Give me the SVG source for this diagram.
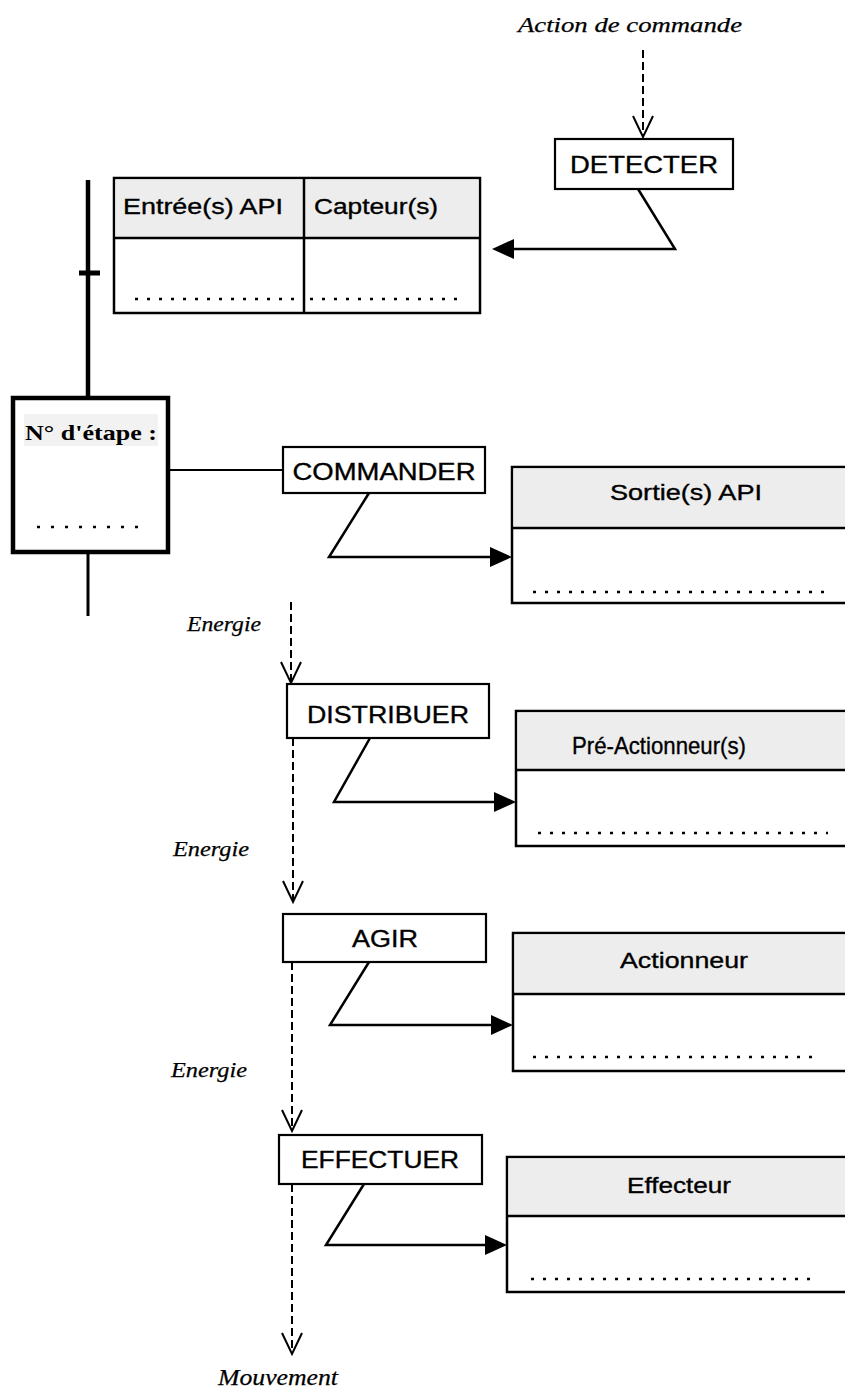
<svg xmlns="http://www.w3.org/2000/svg" width="845" height="1391" viewBox="0 0 845 1391">
<style>
.bg{fill:#ffffff}
.box{fill:#ffffff;stroke:#000;stroke-width:2.2}
.tbl{fill:#ffffff;stroke:#000;stroke-width:2.5}
.hdr{fill:#ededed;stroke:none}
.sep{stroke:#000;stroke-width:2.5;fill:none}
.lbl{font-family:"Liberation Sans",Arial,sans-serif;font-size:23px;fill:#000;stroke:#000;stroke-width:0.35}
.hl{font-family:"Liberation Sans",Arial,sans-serif;font-size:22px;fill:#000;stroke:#000;stroke-width:0.35}
.it{font-family:"Liberation Serif","Times New Roman",serif;font-style:italic;font-size:22px;fill:#000;stroke:#000;stroke-width:0.25}
.dots{stroke:#000;stroke-width:2.5;stroke-dasharray:3 9;fill:none}
.link{stroke:#000;stroke-width:2.5;fill:none;stroke-linejoin:miter}
.dash{stroke:#000;stroke-width:2;stroke-dasharray:8 4;fill:none}
.vhead{stroke:#000;stroke-width:2;fill:none}
.tip{fill:#000;stroke:none}
</style>
<rect class="bg" x="0" y="0" width="845" height="1391"/>

<g id="connectors">
  <line class="dash" x1="643" y1="50" x2="643" y2="136"/>
  <polyline class="vhead" points="633,116 643,137 653,116"/>
  <polyline class="link" points="638,189 675,249 512,249"/>
  <polygon class="tip" points="492,249 514,239 514,259"/>
  <line stroke="#000" stroke-width="2" x1="168" y1="470" x2="283" y2="470"/>
  <polyline class="link" points="369,493 329,557 492,557"/>
  <polygon class="tip" points="512,557 490,547 490,567"/>
  <line class="dash" x1="291" y1="602" x2="291" y2="681"/>
  <polyline class="vhead" points="281,662 291,683 301,662"/>
  <polyline class="link" points="370,738 334,802 496,802"/>
  <polygon class="tip" points="516,802 494,792 494,812"/>
  <line class="dash" x1="293" y1="738" x2="293" y2="901"/>
  <polyline class="vhead" points="283,881 293,902 303,881"/>
  <polyline class="link" points="369,962 330,1025 493,1025"/>
  <polygon class="tip" points="513,1025 491,1015 491,1035"/>
  <line class="dash" x1="292" y1="962" x2="292" y2="1129"/>
  <polyline class="vhead" points="282,1110 292,1131 302,1110"/>
  <polyline class="link" points="364,1184 326,1245 487,1245"/>
  <polygon class="tip" points="507,1245 485,1235 485,1255"/>
  <line class="dash" x1="292" y1="1184" x2="292" y2="1352"/>
  <polyline class="vhead" points="282,1333 292,1354 302,1333"/>
</g>

<g id="label-action">
  <text class="it" x="518" y="32" textLength="224" lengthAdjust="spacingAndGlyphs">Action de commande</text>
</g>

<g id="detecter">
  <rect class="box" x="555" y="139" width="178" height="50"/>
  <text class="lbl" x="644" y="173" text-anchor="middle" textLength="148" lengthAdjust="spacingAndGlyphs">DETECTER</text>
</g>

<g id="table-entrees">
  <rect class="tbl" x="114" y="178" width="366" height="135"/>
  <rect class="hdr" x="115.5" y="179.5" width="363" height="57.5"/>
  <line class="sep" x1="114" y1="238" x2="480" y2="238"/>
  <line class="sep" x1="304" y1="178" x2="304" y2="313"/>
  <text class="hl" x="123" y="214" textLength="160" lengthAdjust="spacingAndGlyphs">Entrée(s) API</text>
  <text class="hl" x="314" y="214" textLength="124" lengthAdjust="spacingAndGlyphs">Capteur(s)</text>
  <line class="dots" x1="135" y1="299" x2="302" y2="299"/>
  <line class="dots" x1="310" y1="299" x2="458" y2="299"/>
</g>

<g id="grafcet">
  <line stroke="#000" stroke-width="4.5" x1="88" y1="180" x2="88" y2="398"/>
  <line stroke="#000" stroke-width="5" x1="79" y1="273" x2="100" y2="273"/>
  <line stroke="#000" stroke-width="3" x1="88" y1="552" x2="88" y2="616"/>
</g>

<g id="etape">
  <rect x="13" y="398" width="155" height="154" fill="#fff" stroke="#000" stroke-width="4.5"/>
  <rect x="24" y="414" width="134" height="32" fill="#f2f2f2"/>
  <text x="25" y="440" style="font-family:'Liberation Serif','Times New Roman',serif;font-weight:bold;font-size:21px" textLength="132" lengthAdjust="spacingAndGlyphs">N° d'étape :</text>
  <line class="dots" x1="37" y1="527" x2="140" y2="527" style="stroke-dasharray:3 11"/>
</g>

<g id="commander">
  <rect class="box" x="283" y="447" width="202" height="46"/>
  <text class="lbl" x="384" y="480" text-anchor="middle" textLength="183" lengthAdjust="spacingAndGlyphs">COMMANDER</text>
</g>

<g id="sorties">
  <rect class="tbl" x="512" y="467" width="340" height="136"/>
  <rect class="hdr" x="513.5" y="468.5" width="338" height="58"/>
  <line class="sep" x1="512" y1="528" x2="852" y2="528"/>
  <text class="hl" x="610" y="500" textLength="152" lengthAdjust="spacingAndGlyphs">Sortie(s) API</text>
  <line class="dots" x1="533" y1="592" x2="824" y2="592"/>
</g>

<g id="label-energie-1">
  <text class="it" x="187" y="631" textLength="74" lengthAdjust="spacingAndGlyphs">Energie</text>
</g>

<g id="distribuer">
  <rect class="box" x="287" y="684" width="202" height="54"/>
  <text class="lbl" x="388" y="723" text-anchor="middle" textLength="162" lengthAdjust="spacingAndGlyphs">DISTRIBUER</text>
</g>

<g id="pre-actionneurs">
  <rect class="tbl" x="516" y="711" width="336" height="135"/>
  <rect class="hdr" x="517.5" y="712.5" width="334" height="56.5"/>
  <line class="sep" x1="516" y1="770" x2="852" y2="770"/>
  <text class="hl" x="572" y="754" style="font-size:24px" textLength="174" lengthAdjust="spacingAndGlyphs">Pré-Actionneur(s)</text>
  <line class="dots" x1="538" y1="833" x2="828" y2="833"/>
</g>

<g id="label-energie-2">
  <text class="it" x="173" y="856" textLength="76" lengthAdjust="spacingAndGlyphs">Energie</text>
</g>

<g id="agir">
  <rect class="box" x="283" y="914" width="203" height="48"/>
  <text class="lbl" x="385" y="947" text-anchor="middle" textLength="66" lengthAdjust="spacingAndGlyphs">AGIR</text>
</g>

<g id="actionneur">
  <rect class="tbl" x="513" y="933" width="339" height="138"/>
  <rect class="hdr" x="514.5" y="934.5" width="337" height="58"/>
  <line class="sep" x1="513" y1="994" x2="852" y2="994"/>
  <text class="hl" x="620" y="968" textLength="128" lengthAdjust="spacingAndGlyphs">Actionneur</text>
  <line class="dots" x1="533" y1="1057" x2="821" y2="1057"/>
</g>

<g id="label-energie-3">
  <text class="it" x="171" y="1077" textLength="76" lengthAdjust="spacingAndGlyphs">Energie</text>
</g>

<g id="effectuer">
  <rect class="box" x="279" y="1135" width="203" height="49"/>
  <text class="lbl" x="380" y="1168" text-anchor="middle" textLength="158" lengthAdjust="spacingAndGlyphs">EFFECTUER</text>
</g>

<g id="effecteur">
  <rect class="tbl" x="507" y="1157" width="345" height="135"/>
  <rect class="hdr" x="508.5" y="1158.5" width="343" height="56.5"/>
  <line class="sep" x1="507" y1="1216" x2="852" y2="1216"/>
  <text class="hl" x="627" y="1193" textLength="104" lengthAdjust="spacingAndGlyphs">Effecteur</text>
  <line class="dots" x1="531" y1="1279" x2="819" y2="1279"/>
</g>

<g id="label-mouvement">
  <text class="it" x="218" y="1385" style="font-size:24px" textLength="120" lengthAdjust="spacingAndGlyphs">Mouvement</text>
</g>
</svg>
